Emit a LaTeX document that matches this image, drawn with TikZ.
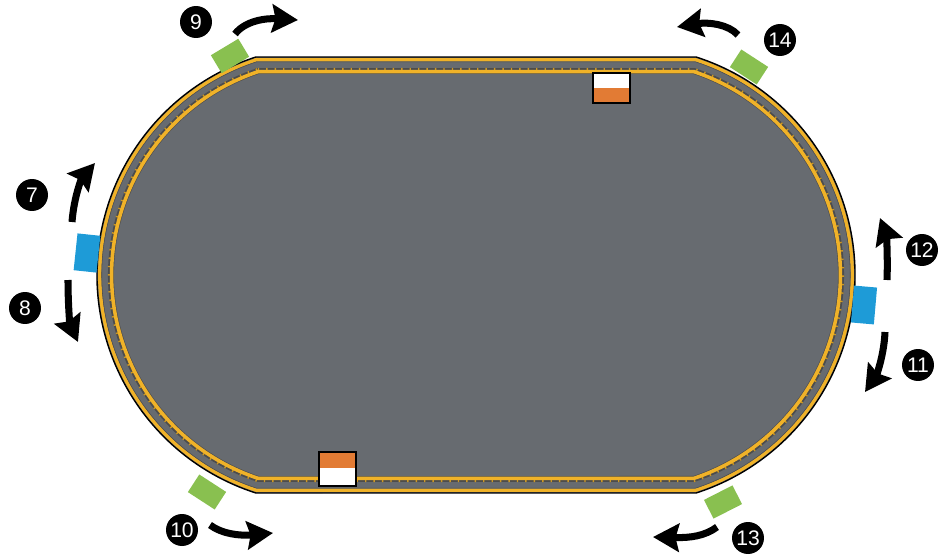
\documentclass[tikz,border=0pt]{standalone}
\usepackage{fontspec}
\setmainfont{Liberation Sans}
\usetikzlibrary{arrows.meta}
\definecolor{trackgray}{RGB}{103,107,112}
\definecolor{railyellow}{RGB}{240,178,40}
\definecolor{sensorgreen}{RGB}{137,192,80}
\definecolor{sensorblue}{RGB}{30,155,215}
\definecolor{carorange}{RGB}{226,123,52}
\tikzset{
  num/.style={circle,fill=black,text=white,minimum size=0.64cm,inner sep=0pt,font=\fontsize{12}{12}\selectfont},
  greenbox/.style={rectangle,fill=sensorgreen,minimum width=0.64cm,minimum height=0.42cm,inner sep=0pt},
  bluebox/.style={rectangle,fill=sensorblue,minimum width=0.46cm,minimum height=0.74cm,inner sep=0pt},
  turn/.style={line width=4pt,-{Stealth[length=0.52cm,width=0.56cm,inset=0.07cm]}}
}
% offset from the outer edge (px), then draw options
\newcommand{\trackline}[2]{%
  \pgfmathsetmacro{\trkr}{229-#1}%
  \pgfmathsetmacro{\trkh}{218-#1}%
  \pgfmathsetmacro{\trka}{asin(\trkh/\trkr)}%
  \pgfmathsetmacro{\trkdx}{\trkr*cos(\trka)}%
  \draw[#2] (326-\trkdx,281+\trkh) -- (626+\trkdx,281+\trkh)
    arc[start angle=\trka,end angle=-\trka,radius=\trkr]
    -- (326-\trkdx,281-\trkh)
    arc[start angle=180+\trka,end angle=180-\trka,radius=\trkr] -- cycle;}
\begin{document}
\begin{tikzpicture}[x=0.02cm,y=0.02cm]
\useasboundingbox (0,0) rectangle (938,556);

% track
\trackline{0}{fill=trackgray,draw=black,line width=0.8pt}
\trackline{2.8}{draw=railyellow,line width=1.9pt}
\trackline{4.8}{draw=black!70,line width=0.3pt}
\trackline{14}{draw=black!70,line width=3.4pt}
\trackline{12}{draw=railyellow!85!black,line width=1.3pt,dash pattern=on 0.8pt off 4pt}
\trackline{14.6}{draw=railyellow,line width=2pt}

% cars
\fill[white] (593,468) rectangle (630,483);
\fill[carorange] (593,453) rectangle (630,468);
\draw[line width=0.6pt] (593,453) rectangle (630,483);
\fill[carorange] (319,88) rectangle (356,104);
\fill[white] (319,70) rectangle (356,88);
\draw[line width=0.6pt] (319,70) rectangle (356,104);

% sensors
\node[greenbox,rotate=31] (g9) at (230,500) {};
\node[greenbox,rotate=-33] (g14) at (749,489) {};
\node[greenbox,rotate=-33] (g10) at (207,64) {};
\node[greenbox,rotate=27] (g13) at (723,54) {};
\node[bluebox,rotate=-6] (b7) at (87,303) {};
\node[bluebox,rotate=-5] (b12) at (864,251) {};

% labels
\node[num] (n9) at (196,534) {9};
\node[num] (n14) at (780,516) {14};
\node[num] (n7) at (32,361) {7};
\node[num] (n8) at (25,248) {8};
\node[num] (n12) at (922,306) {12};
\node[num] (n11) at (918,191) {11};
\node[num] (n10) at (182,26) {10};
\node[num] (n13) at (748,18) {13};

% directions
\draw[turn] (235,522) .. controls (245,535) and (265,538) .. (298,536);
\draw[turn] (738,521) .. controls (728,532) and (708,534) .. (677,529);
\draw[turn] (72,334) .. controls (74,360) and (82,378) .. (95,393);
\draw[turn] (68,276) .. controls (68,250) and (70,232) .. (78,214);
\draw[turn] (887,276) .. controls (888,300) and (886,322) .. (880,338);
\draw[turn] (885,224) .. controls (884,200) and (876,180) .. (865,164);
\draw[turn] (210,31) .. controls (222,22) and (240,20) .. (273,23);
\draw[turn] (717,29) .. controls (705,20) and (690,18) .. (653,19);
\end{tikzpicture}
\end{document}
